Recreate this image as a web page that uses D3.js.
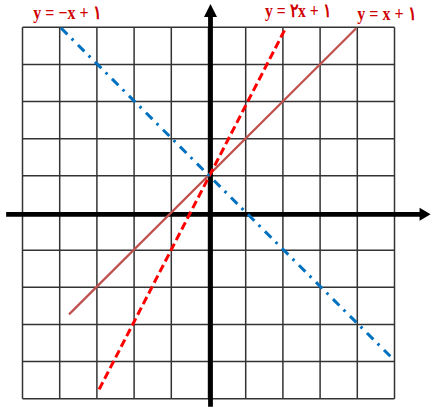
<!DOCTYPE html>
<html><head><meta charset="utf-8">
<script src="https://cdn.jsdelivr.net/npm/d3@7"></script>
<style>html,body{margin:0;padding:0;background:#fff;}svg{display:block;}</style>
</head><body>
<svg id="chart" width="434" height="409"></svg>
<script>
// grid values (units)
const gridValues = [-5,-4,-3,-2,-1,0,1,2,3,4,5];
// line end points [x, y]
const lineXPlus1 = [[-3.75,-2.73],[3.965,4.97]];
const line2XPlus1 = [[-2.94,-4.75],[2.08,4.99]];
const lineNegXPlus1 = [[-3.965,4.98],[5.0,-3.97]];
// axis extents (units)
const xAxisExtent = [-5.44, 5.97];
const yAxisExtent = [-5.22, 5.63];
// labels
const labels = [
  {text:"y = −x + ١", x:-4.71, y:5.23, w:68},
  {text:"y = ٢x + ١", x:1.52, y:5.28, w:66},
  {text:"y = x + ١", x:4.0, y:5.20, w:59}
];

const svg = d3.select("#chart");
const x = d3.scaleLinear().domain([-5,5]).range([22.5,394.5]);
const y = d3.scaleLinear().domain([-5,5]).range([398.7,27.3]);

// grid
const g = svg.append("g").attr("stroke","#333").attr("stroke-width",1.5);
g.selectAll("line.v").data(gridValues).join("line")
  .attr("x1",d=>x(d)).attr("x2",d=>x(d)).attr("y1",y(5)).attr("y2",y(-5));
g.selectAll("line.h").data(gridValues).join("line").attr("class","h")
  .attr("y1",d=>y(d)).attr("y2",d=>y(d)).attr("x1",x(-5)).attr("x2",x(5));

// axes
const ax0 = x(0)+2, ay0 = y(0)+1.3;
svg.append("line").attr("x1",x(xAxisExtent[0])).attr("x2",x(xAxisExtent[1])-8)
  .attr("y1",ay0).attr("y2",ay0).attr("stroke","#000").attr("stroke-width",4.8);
svg.append("polygon")
  .attr("points",[[x(xAxisExtent[1]),ay0],[x(xAxisExtent[1])-11,ay0-6.5],[x(xAxisExtent[1])-11,ay0+6.5]].map(p=>p.join(",")).join(" "))
  .attr("fill","#000");
svg.append("line").attr("y1",y(yAxisExtent[1])+8).attr("y2",y(yAxisExtent[0]))
  .attr("x1",ax0).attr("x2",ax0).attr("stroke","#000").attr("stroke-width",4.8);
svg.append("polygon")
  .attr("points",[[ax0,y(yAxisExtent[1])],[ax0-6.5,y(yAxisExtent[1])+13],[ax0+6.5,y(yAxisExtent[1])+13]].map(p=>p.join(",")).join(" "))
  .attr("fill","#000");

// lines
const lg = d3.line().x(d=>x(d[0])).y(d=>y(d[1]));
svg.append("path").attr("d",lg(lineXPlus1)).attr("fill","none")
  .attr("stroke","#c0504d").attr("stroke-width",2.2);
svg.append("path").attr("d",lg(line2XPlus1)).attr("fill","none")
  .attr("stroke","#ff0000").attr("stroke-width",3).attr("stroke-dasharray","8,4");
svg.append("path").attr("d",lg(lineNegXPlus1)).attr("fill","none")
  .attr("stroke","#0070c0").attr("stroke-width",3).attr("stroke-dasharray","9,6,2.5,6.5");

// labels
svg.selectAll("text.lbl").data(labels).join("text").attr("class","lbl")
  .attr("x",d=>x(d.x)).attr("y",d=>y(d.y))
  .attr("textLength",d=>d.w).attr("lengthAdjust","spacingAndGlyphs")
  .attr("font-family","'Liberation Serif','DejaVu Serif',serif").attr("font-weight","bold")
  .attr("font-size",18.5).attr("fill","#d00000")
  .text(d=>d.text);
</script>
</body></html>
